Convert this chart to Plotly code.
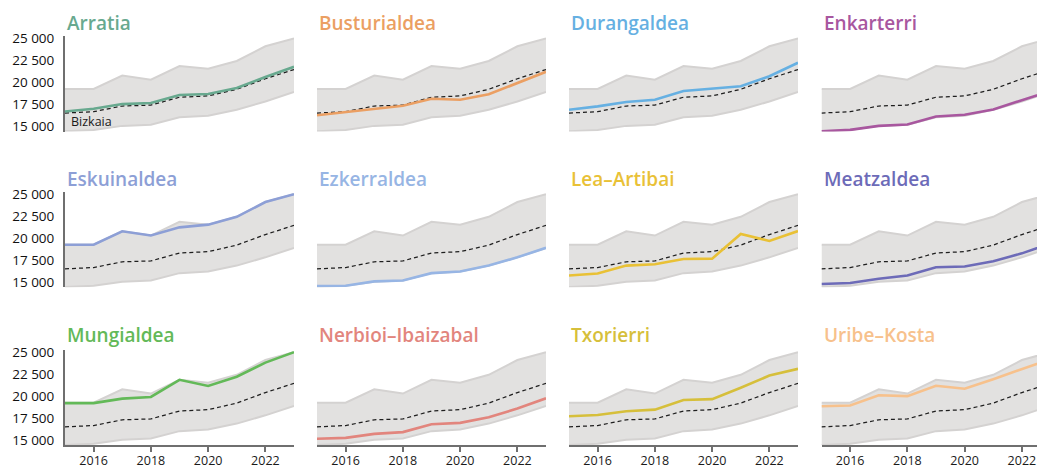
import plotly.graph_objects as go
import numpy as np

years = [2015, 2016, 2017, 2018, 2019, 2020, 2021, 2022, 2023]
bizkaia = [16500, 16650, 17300, 17400, 18300, 18450, 19200, 20400, 21450]

arratia = [16680, 16990, 17520, 17640, 18550, 18670, 19350, 20610, 21760]
busturialdea = [16250, 16600, 16990, 17330, 18130, 18020, 18630, 19930, 21190]
durangaldea = [16880, 17260, 17750, 18020, 19010, 19240, 19550, 20690, 22220]
enkarterri = [14420, 14590, 15040, 15190, 16110, 16300, 16910, 17940, 19010]
eskuinaldea = [19240, 19240, 20770, 20290, 21220, 21530, 22420, 24100, 25000]
ezkerraldea = [14550, 14580, 15070, 15180, 16010, 16190, 16870, 17810, 18890]
lea_artibai = [15740, 15970, 16870, 17020, 17620, 17660, 20460, 19670, 20800]
meatzaldea = [14780, 14890, 15370, 15740, 16680, 16760, 17360, 18260, 19380]
mungialdea = [19200, 19200, 19710, 19900, 21850, 21150, 22200, 23810, 25000]
nerbioi_ibaizabal = [15150, 15250, 15700, 15900, 16800, 16950, 17580, 18580, 19750]
txorierri = [17700, 17850, 18270, 18460, 19550, 19650, 20950, 22330, 23100]
uribe_kosta = [18850, 18920, 20100, 19990, 21180, 20840, 21920, 23070, 24220]

names = ["Arratia", "Busturialdea", "Durangaldea", "Enkarterri",
         "Eskuinaldea", "Ezkerraldea", "Lea\u2013Artibai", "Meatzaldea",
         "Mungialdea", "Nerbioi\u2013Ibaizabal", "Txorierri", "Uribe\u2013Kosta"]
series = [arratia, busturialdea, durangaldea, enkarterri,
          eskuinaldea, ezkerraldea, lea_artibai, meatzaldea,
          mungialdea, nerbioi_ibaizabal, txorierri, uribe_kosta]
colors = ["#68a98f", "#eb9f63", "#66b0e2", "#a8579f",
          "#8d9fd6", "#97b5e4", "#e9c136", "#6d6bb8",
          "#63b958", "#e2857d", "#d6bf3b", "#f7c18c"]

y_tickvals = [15000, 17500, 20000, 22500, 25000]
y_ticktext = ["15 000", "17 500", "20 000", "22 500", "25 000"]
x_tickvals = [2016, 2018, 2020, 2022]

band_low = np.min(np.array(series), axis=0)
band_high = np.max(np.array(series), axis=0)

# page body adds an 8px offset, so figure coords = screen coords - 8
W, H = 1045, 466
col_left = [57, 309, 561, 813.5]
panel_w = 229
row_top = [27.7, 183.5, 341.5]
row_bot = [123.5, 279.3, 437.3]
title_y = [14.7, 171.3, 327.0]
yrange = [14400, 25300]

fig = go.Figure()
layout = {}
annotations = []
FONT = "Open Sans"

for i, (name, vals, col) in enumerate(zip(names, series, colors)):
    r, c = divmod(i, 4)
    n = i + 1
    xa = "x" if n == 1 else f"x{n}"
    ya = "y" if n == 1 else f"y{n}"
    xkey = "xaxis" if n == 1 else f"xaxis{n}"
    ykey = "yaxis" if n == 1 else f"yaxis{n}"

    left = col_left[c]
    right = left + panel_w

    fig.add_trace(go.Scatter(x=years, y=band_low, mode="lines",
                             line=dict(color="#d4d2d1", width=2),
                             xaxis=xa, yaxis=ya, showlegend=False, hoverinfo="skip"))
    fig.add_trace(go.Scatter(x=years, y=band_high, mode="lines", fill="tonexty",
                             fillcolor="#e2e1e0",
                             line=dict(color="#d4d2d1", width=2),
                             xaxis=xa, yaxis=ya, showlegend=False, hoverinfo="skip"))
    fig.add_trace(go.Scatter(x=years, y=bizkaia, mode="lines",
                             line=dict(color="#1e1e1e", width=1.25, dash="4px,3px"),
                             xaxis=xa, yaxis=ya, showlegend=False))
    fig.add_trace(go.Scatter(x=years, y=vals, mode="lines",
                             line=dict(color=col, width=2.6),
                             xaxis=xa, yaxis=ya, showlegend=False))

    bottom_row = (r == 2)
    layout[xkey] = dict(
        domain=[left / W, right / W], range=[2015, 2023], anchor=ya,
        automargin=False,
        showgrid=False, zeroline=False,
        showline=bottom_row, linecolor="#6f6f6f", linewidth=2,
        tickvals=x_tickvals, showticklabels=bottom_row,
        ticks="outside" if bottom_row else "", ticklen=5, tickwidth=1.5, tickcolor="#6f6f6f",
        ticklabelstandoff=-2,
        tickfont=dict(family=FONT, size=12.5, color="#1a1a1a"),
    )
    first_col = (c == 0)
    layout[ykey] = dict(
        domain=[1 - row_bot[r] / H, 1 - row_top[r] / H], range=yrange, anchor=xa,
        automargin=False,
        showgrid=False, zeroline=False,
        showline=first_col, linecolor="#6f6f6f", linewidth=2,
        tickvals=y_tickvals, ticktext=y_ticktext, showticklabels=first_col,
        ticks="", ticklabelstandoff=6,
        tickfont=dict(family=FONT, size=13.5, color="#111111"),
    )
    annotations.append(dict(
        text=name, xref="paper", yref="paper", x=left / W, y=1 - title_y[r] / H,
        xanchor="left", yanchor="middle", showarrow=False,
        font=dict(family=FONT, size=19, color=col, weight=600),
    ))

annotations.append(dict(
    text="Bizkaia", xref="paper", yref="paper", x=61 / W, y=1 - 113.7 / H,
    xanchor="left", yanchor="middle", showarrow=False,
    font=dict(family=FONT, size=12.5, color="#1a1a1a"),
))

fig.update_layout(**layout)
fig.update_layout(
    width=W, height=H, margin=dict(l=0, r=0, t=0, b=0, autoexpand=False),
    paper_bgcolor="white", plot_bgcolor="white",
    annotations=annotations, showlegend=False,
)

fig.write_html("out.html")
